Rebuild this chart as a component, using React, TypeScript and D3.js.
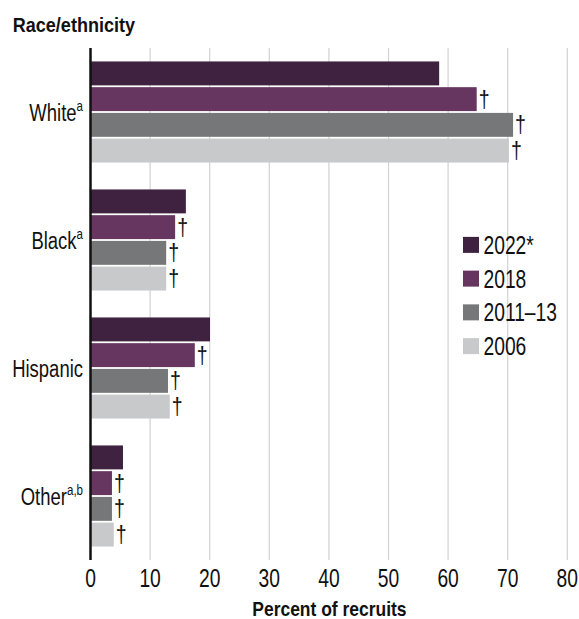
import React from "react";
import * as d3 from "d3";

const categories = ["White", "Black", "Hispanic", "Other"];
const categorySups = ["a", "a", "", "a,b"];
const seriesNames = ["2022*", "2018", "2011–13", "2006"];
const seriesColors = ["#3f2240", "#663660", "#767778", "#c8c9cb"];
const values2022 = [58.5, 16.0, 20.05, 5.45];
const values2018 = [64.8, 14.2, 17.5, 3.6];
const values2011 = [70.9, 12.7, 13.0, 3.6];
const values2006 = [70.2, 12.7, 13.3, 3.9];
const seriesSignificant = [false, true, true, true];
const xTicks = [0, 10, 20, 30, 40, 50, 60, 70, 80];

const seriesValues = [values2022, values2018, values2011, values2006];

const W = 579;
const H = 619;
const FONT = "'Liberation Sans', Arial, sans-serif";
const INK = "#111";

type CTextProps = {
  x: number;
  y: number;
  sx?: number;
  size: number;
  anchor?: "start" | "middle" | "end";
  bold?: boolean;
  children: React.ReactNode;
};

function CText({ x, y, sx = 0.77, size, anchor = "start", bold = false, children }: CTextProps) {
  return (
    <text
      transform={`translate(${x},${y}) scale(${sx},1)`}
      textAnchor={anchor}
      fontSize={size}
      fontWeight={bold ? "bold" : "normal"}
      fill={INK}
    >
      {children}
    </text>
  );
}

export default function App() {
  const x = d3.scaleLinear().domain([0, 80]).range([90.5, 567.3]);
  const y0 = d3
    .scaleBand<string>()
    .domain(categories)
    .range([48, 560])
    .paddingInner(0.21)
    .paddingOuter(0.105);
  const y1 = d3
    .scaleBand<string>()
    .domain(seriesNames)
    .range([0, y0.bandwidth()])
    .paddingInner(0.07)
    .paddingOuter(0);

  const legendY = d3.scaleBand<string>().domain(seriesNames).range([228, 363]);

  return (
    <svg
      width={W}
      height={H}
      style={{ position: "absolute", left: 0, top: 0, background: "#fff" }}
      fontFamily={FONT}
    >
      <CText x={12.7} y={32} size={21} sx={0.86} bold>
        Race/ethnicity
      </CText>

      {/* gridlines */}
      {xTicks.slice(1).map((t) => (
        <line key={t} x1={x(t)} x2={x(t)} y1={48} y2={560} stroke="#d2d2d2" strokeWidth={1.2} />
      ))}

      {/* bars */}
      {categories.map((c, ci) => (
        <g key={c} transform={`translate(0,${y0(c)})`}>
          {seriesNames.map((s, si) => {
            const v = seriesValues[si][ci];
            const yy = y1(s)!;
            const h = y1.bandwidth();
            return (
              <g key={s}>
                <rect x={x(0)} y={yy} width={x(v) - x(0)} height={h} fill={seriesColors[si]} />
                {seriesSignificant[si] && (
                  <CText x={x(v) + 2} y={yy + h / 2 + 7.5} size={23} sx={0.85}>
                    †
                  </CText>
                )}
              </g>
            );
          })}
        </g>
      ))}

      {/* axis line */}
      <line x1={x(0)} x2={x(0)} y1={48} y2={560} stroke="#111" strokeWidth={2.5} />

      {/* category labels */}
      {categories.map((c, ci) => (
        <CText key={c} x={83} y={y0(c)! + y0.bandwidth() / 2 + 8.5} size={24} anchor="end">
          {c}
          {categorySups[ci] && (
            <tspan fontSize={15} dy={-9.5}>
              {categorySups[ci]}
            </tspan>
          )}
        </CText>
      ))}

      {/* x tick labels */}
      {xTicks.map((t) => (
        <CText key={t} x={x(t)} y={587} size={25} anchor="middle">
          {t}
        </CText>
      ))}

      <CText x={x(40) + 0.5} y={615.5} size={20.3} sx={0.86} anchor="middle" bold>
        Percent of recruits
      </CText>

      {/* legend */}
      {seriesNames.map((s, si) => {
        const cy = legendY(s)! + legendY.bandwidth() / 2;
        return (
          <g key={s}>
            <rect x={463} y={cy - 8} width={16} height={16} fill={seriesColors[si]} />
            <CText x={483.5} y={cy + 9} size={25}>
              {s}
            </CText>
          </g>
        );
      })}
    </svg>
  );
}
